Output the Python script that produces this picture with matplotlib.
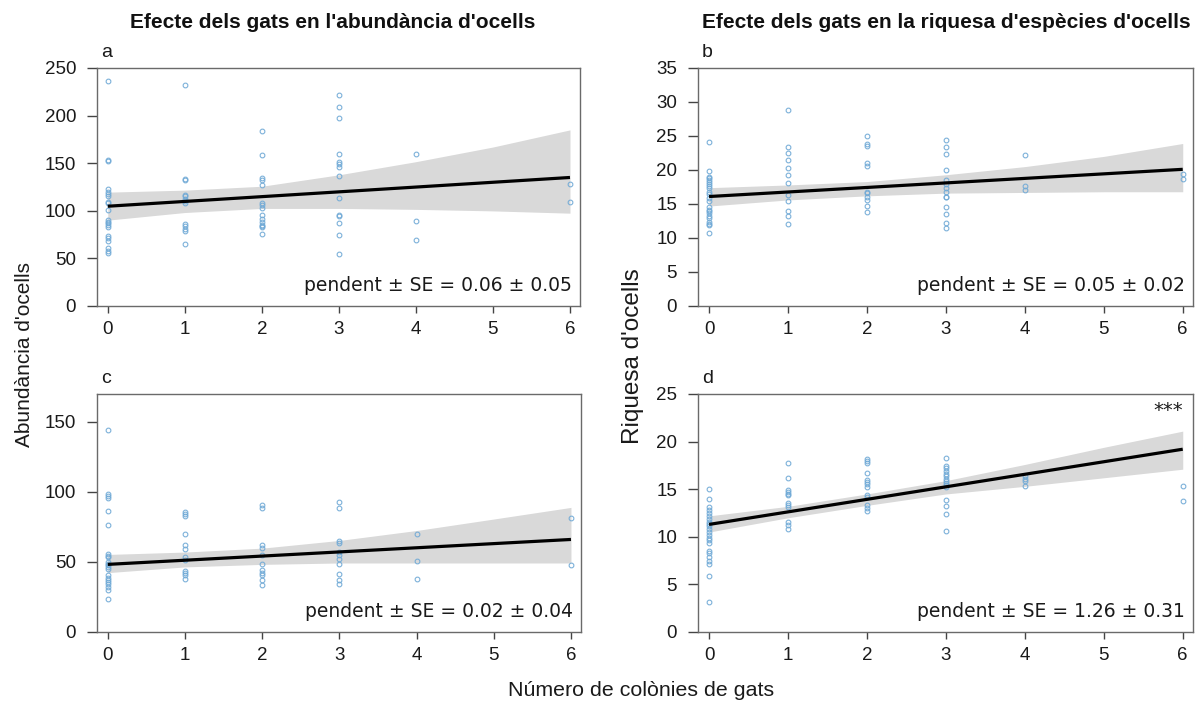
import numpy as np
import matplotlib
matplotlib.use("Agg")
import matplotlib.pyplot as plt
from matplotlib import font_manager

# ---------------- data ----------------
cats_x = [0, 1, 2, 3, 4, 6]
fit_x = [0, 1, 2, 3, 4, 5, 6]

# panel a: abundance (top)
a_y0 = [236.5, 153.5, 152.5, 123, 120, 118, 115.5, 109, 108, 100.6, 90, 88.5, 87, 85.4, 82.6, 74, 71, 68, 61, 57.4, 55.7]
a_y1 = [232, 133, 132, 117, 115.5, 112, 110, 108.6, 86, 84.3, 81, 79, 65]
a_y2 = [184, 158.7, 134.5, 132, 127.6, 108.6, 106, 102.7, 95.8, 91, 87.8, 85.4, 84.3, 82.6, 76]
a_y3 = [221.6, 209.5, 197.8, 159.4, 151, 149, 146.3, 136.2, 113, 95.8, 94.7, 87, 75, 54.6]
a_y4 = [159.4, 89.5, 69.5]
a_y6 = [128.6, 109]
a_fit = [104.8, 135.0]
a_upper = [119.6, 121.7, 125.8, 137.8, 151.6, 167.0, 185.0]
a_lower = [90.2, 98.2, 102.5, 102.5, 101.5, 99.9, 97.5]

# panel b: richness (top)
b_y0 = [24.1, 19.9, 19.0, 18.8, 18.5, 18.3, 18.0, 17.7, 17.3, 16.8, 16.4, 15.9, 15.5, 14.5, 14.1, 13.9, 13.7, 13.3, 12.9, 12.4, 12.1, 11.9, 10.8]
b_y1 = [28.8, 23.4, 22.5, 21.5, 20.3, 19.3, 18.1, 16.3, 15.5, 14.0, 13.3, 12.0]
b_y2 = [25.0, 23.8, 23.6, 21.1, 20.6, 16.8, 16.6, 16.1, 15.6, 14.7, 13.8]
b_y3 = [24.4, 23.4, 22.3, 20.0, 18.6, 17.95, 17.3, 16.8, 16.1, 16.0, 14.6, 13.6, 12.2, 11.5]
b_y4 = [22.2, 17.7, 17.0]
b_y6 = [19.4, 18.7]
b_fit = [16.1, 20.1]
b_upper = [17.4, 17.8, 18.3, 19.3, 20.5, 22.0, 23.9]
b_lower = [14.7, 15.6, 16.2, 16.6, 16.7, 16.8, 16.8]

# panel c: abundance (bottom)
c_y0 = [144.6, 98.9, 97.3, 95.6, 86.6, 76.7, 55.4, 54.3, 53.5, 50, 48.8, 47.6, 46.5, 45.3, 40.5, 38.9, 37.5, 35.8, 34.2, 32.3, 29.9, 23.3]
c_y1 = [85.5, 84.3, 83.1, 70.1, 61.8, 59.5, 53.5, 51.2, 43.4, 42.2, 41.0, 38.2]
c_y2 = [90.7, 88.5, 62.5, 60.2, 54.7, 48.3, 44.1, 42.4, 40.5, 37.0, 33.5]
c_y3 = [92.6, 88.5, 64.7, 63.7, 57.1, 54.7, 52.4, 48.8, 41.7, 37.0, 34.6]
c_y4 = [70.1, 50.5, 38.2]
c_y6 = [81.2, 48.1]
c_fit = [48.3, 66.1]
c_upper = [55.4, 57.1, 59.9, 65.4, 72.5, 80.7, 89.0]
c_lower = [42.4, 46.5, 48.3, 49.3, 49.3, 49.3, 49.3]

# panel d: richness (bottom)
d_y0 = [15.0, 14.0, 13.1, 12.8, 12.5, 12.2, 11.9, 11.6, 11.3, 11.1, 10.8, 10.5, 10.2, 9.9, 9.7, 9.4, 8.5, 8.3, 7.9, 7.5, 7.1, 5.9, 3.1]
d_y1 = [17.8, 16.2, 14.9, 14.7, 14.5, 14.4, 13.6, 13.3, 13.1, 11.6, 11.2, 10.8]
d_y2 = [18.2, 18.0, 17.8, 16.7, 16.0, 15.8, 15.5, 15.2, 14.4, 14.2, 13.3, 13.0, 12.7]
d_y3 = [18.3, 17.4, 17.2, 16.9, 16.6, 16.4, 16.1, 15.9, 15.6, 15.4, 15.2, 13.9, 13.2, 12.4, 10.6]
d_y4 = [16.4, 16.1, 15.9, 15.3]
d_y6 = [15.3, 13.8]
d_fit = [11.3, 19.2]
d_upper = [12.2, 13.2, 14.5, 15.9, 17.6, 19.4, 21.1]
d_lower = [10.5, 12.0, 13.3, 14.5, 15.3, 16.2, 17.1]

labels = ["a", "b", "c", "d"]
slope_texts = ["pendent ± SE = 0.06 ± 0.05", "pendent ± SE = 0.05 ± 0.02",
               "pendent ± SE = 0.02 ± 0.04", "pendent ± SE = 1.26 ± 0.31"]
yticks_list = [[0, 50, 100, 150, 200, 250], [0, 5, 10, 15, 20, 25, 30, 35],
               [0, 50, 100, 150], [0, 5, 10, 15, 20, 25]]
ylims = [(0, 250), (0, 35), (0, 170), (0, 25)]
col_titles = ["Efecte dels gats en l'abundància d'ocells",
              "Efecte dels gats en la riquesa d'espècies d'ocells"]
ylabels = ["Abundància d'ocells", "Riquesa d'ocells"]
xlabel = "Número de colònies de gats"
xticks = [0, 1, 2, 3, 4, 5, 6]

# ---------------- fonts ----------------
names = {f.name for f in font_manager.fontManager.ttflist}
sans = "Liberation Sans" if "Liberation Sans" in names else "DejaVu Sans"
narrow = "Liberation Sans Narrow" if "Liberation Sans Narrow" in names else sans
plt.rcParams["font.family"] = [sans, "DejaVu Sans"]

# ---------------- figure ----------------
W, H = 1195, 708
fig = plt.figure(figsize=(W / 100, H / 100), dpi=100)

def box(l, r, t, b):
    return [l / W, 1 - b / H, (r - l) / W, (b - t) / H]

positions = [box(97, 580, 68, 306), box(698, 1193, 68, 306),
             box(97, 581, 394, 632), box(698, 1193, 394, 632)]

panels = [
    ([a_y0, a_y1, a_y2, a_y3, a_y4, a_y6], a_fit, a_upper, a_lower),
    ([b_y0, b_y1, b_y2, b_y3, b_y4, b_y6], b_fit, b_upper, b_lower),
    ([c_y0, c_y1, c_y2, c_y3, c_y4, c_y6], c_fit, c_upper, c_lower),
    ([d_y0, d_y1, d_y2, d_y3, d_y4, d_y6], d_fit, d_upper, d_lower),
]

pt_color = "#6fa9d6"
frame_col = "#6a6a6a"
for i, (groups, fit, up, lo) in enumerate(panels):
    ax = fig.add_axes(positions[i])
    xf = np.linspace(fit_x[0], fit_x[-1], 200)
    ax.fill_between(xf, np.interp(xf, fit_x, lo), np.interp(xf, fit_x, up),
                    color="#d9d9d9", lw=0, zorder=1)
    for xv, ys in zip(cats_x, groups):
        ax.plot([xv] * len(ys), ys, ls="none", marker="o", ms=3.4, mfc="none",
                mec=pt_color, mew=0.8, alpha=0.9, zorder=2)
    ax.plot([fit_x[0], fit_x[-1]], fit, color="black", lw=2.3, zorder=3,
            solid_capstyle="butt")
    ax.set_xlim(-0.14, 6.13)
    ax.set_ylim(*ylims[i])
    ax.set_xticks(xticks)
    ax.set_yticks(yticks_list[i])
    for s in ax.spines.values():
        s.set_color(frame_col)
        s.set_linewidth(1.0)
    ax.tick_params(axis="y", direction="out", length=7, width=1.0, pad=8,
                   labelsize=13.5, color="#444444", labelcolor="#1a1a1a")
    ax.tick_params(axis="x", direction="out", length=5, width=1.0, pad=6,
                   labelsize=13.5, color="#444444", labelcolor="#1a1a1a")
    ax.text(0.008, 1.03, labels[i], transform=ax.transAxes, ha="left",
            va="bottom", fontsize=14, color="#1a1a1a")
    ax.text(0.983, 0.085, slope_texts[i], transform=ax.transAxes, ha="right",
            va="center", fontsize=13.5, color="#1a1a1a", family="DejaVu Sans")
    if i == 3:
        ax.text(0.98, 0.93, "***", transform=ax.transAxes, ha="right",
                va="center", fontsize=14, color="#1a1a1a", family="DejaVu Sans")

fig.text(333 / W, 1 - 22 / H, col_titles[0], ha="center", va="center",
         fontsize=15, fontweight="bold", family=narrow, color="#111111")
fig.text(946 / W, 1 - 22 / H, col_titles[1], ha="center", va="center",
         fontsize=15, fontweight="bold", family=narrow, color="#111111")
fig.text(25 / W, 1 - 355 / H, ylabels[0], rotation=90, ha="center",
         va="center", fontsize=15, color="#1a1a1a")
fig.text(633 / W, 1 - 356 / H, ylabels[1], rotation=90, ha="center",
         va="center", fontsize=17.5, color="#1a1a1a")
fig.text(641 / W, 1 - 690 / H, xlabel, ha="center", va="center",
         fontsize=15.4, color="#1a1a1a")

fig.savefig("out.png", dpi=100)
